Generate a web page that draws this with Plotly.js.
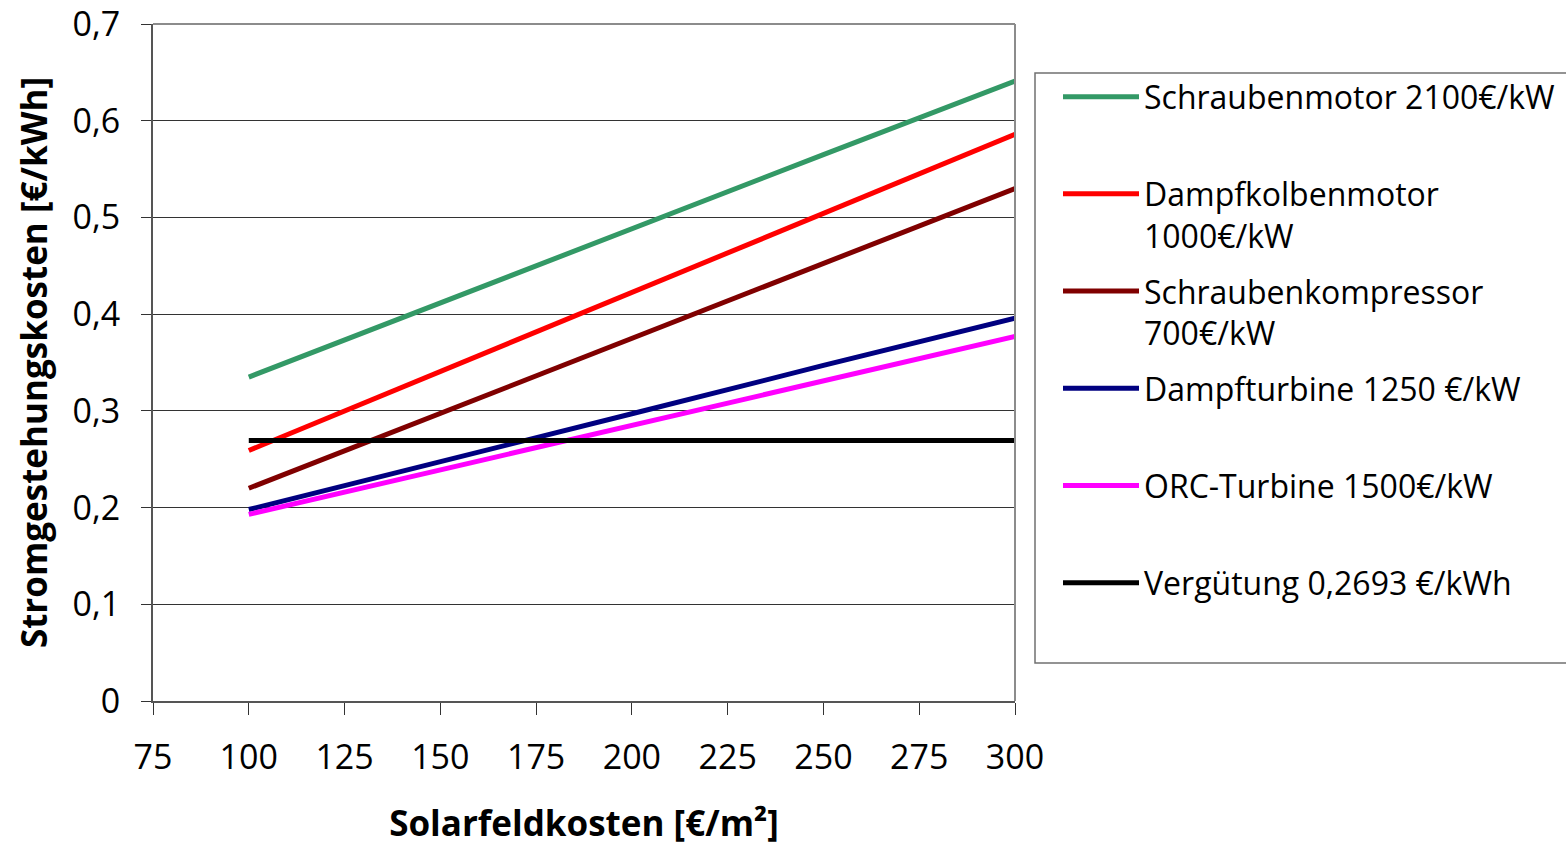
<!DOCTYPE html>
<html>
<head>
<meta charset="utf-8">
<script src="https://cdn.plot.ly/plotly-3.0.1.min.js"></script>
<style>html,body{margin:0;padding:0;background:#fff;}#chart{width:1566px;height:846px;}</style>
</head>
<body>
<div id="chart"></div>
<script>
// Solarfeldkosten [€/m²]
const solarfeldkosten = [100, 150, 200, 250, 300];
// Stromgestehungskosten [€/kWh]
const schraubenmotor = [0.335, 0.412, 0.488, 0.565, 0.641];
const dampfkolbenmotor = [0.259, 0.341, 0.423, 0.504, 0.586];
const schraubenkompressor = [0.220, 0.2975, 0.375, 0.452, 0.530];
const dampfturbine = [0.198, 0.247, 0.297, 0.347, 0.396];
const orcTurbine = [0.193, 0.239, 0.285, 0.331, 0.377];
const verguetung = [0.2693, 0.2693, 0.2693, 0.2693, 0.2693];

const seriesNames = [
  "Schraubenmotor 2100€/kW<br> ",
  "Dampfkolbenmotor<br>1000€/kW",
  "Schraubenkompressor<br>700€/kW",
  "Dampfturbine 1250 €/kW<br> ",
  "ORC-Turbine 1500€/kW<br> ",
  "Vergütung 0,2693 €/kWh<br> "
];
const seriesValues = [schraubenmotor, dampfkolbenmotor, schraubenkompressor, dampfturbine, orcTurbine, verguetung];
const seriesColors = ["#339966", "#FF0000", "#800000", "#000080", "#FF00FF", "#000000"];

const FONT = "'Open Sans', 'Noto Sans', sans-serif";

const traces = seriesValues.map((vals, i) => ({
  type: "scatter",
  mode: "lines",
  x: solarfeldkosten,
  y: vals,
  name: seriesNames[i],
  legendgroup: "g" + i,
  line: {color: seriesColors[i], width: 5},
  hoverinfo: "skip"
}));

const layout = {
  width: 1566,
  height: 846,
  margin: {l: 153, r: 551, t: 24, b: 145, pad: 0, autoexpand: false},
  paper_bgcolor: "#ffffff",
  plot_bgcolor: "#ffffff",
  separators: ",.",
  font: {family: FONT, size: 34, color: "#000"},
  xaxis: {
    range: [75, 300],
    tick0: 75,
    dtick: 25,
    tickmode: "linear",
    showgrid: false,
    zeroline: false,
    showline: true,
    linecolor: "#555555",
    linewidth: 2,
    ticks: "outside",
    ticklen: 12,
    tickwidth: 1,
    tickcolor: "#333333",
    ticklabelstandoff: 13,
    ticklabeloverflow: "allow",
    tickfont: {family: FONT, size: 34, color: "#000"},
    title: {text: "Solarfeldkosten [€/m²]", font: {family: FONT, size: 35, color: "#000", weight: "bold"}, standoff: 41}
  },
  yaxis: {
    range: [0, 0.7001],
    tick0: 0,
    dtick: 0.1,
    tickmode: "linear",
    showgrid: true,
    gridcolor: "#333333",
    gridwidth: 1,
    zeroline: false,
    showline: true,
    linecolor: "#555555",
    linewidth: 2,
    ticks: "outside",
    ticklen: 10,
    tickwidth: 1,
    tickcolor: "#333333",
    ticklabelstandoff: 14,
    ticklabeloverflow: "allow",
    tickfont: {family: FONT, size: 34, color: "#000"},
    title: {text: "Stromgestehungskosten [€/kWh]", font: {family: FONT, size: 35, color: "#000", weight: "bold"}, standoff: 14}
  },
  showlegend: true,
  legend: {
    x: (1058 - 153) / 862,
    xanchor: "left",
    y: 0.933,
    yanchor: "top",
    valign: "top",
    bgcolor: "rgba(0,0,0,0)",
    borderwidth: 0,
    tracegroupgap: 11,
    itemwidth: 76,
    font: {family: FONT, size: 32, color: "#000"}
  },
  shapes: [
    {type: "line", xref: "paper", yref: "paper", x0: 0, x1: 1, y0: 1, y1: 1, line: {color: "#8c8c8c", width: 2}},
    {type: "line", xref: "paper", yref: "paper", x0: 1, x1: 1, y0: 0, y1: 1, line: {color: "#8c8c8c", width: 2}},
    {type: "rect", xref: "paper", yref: "paper", x0: (1035-153)/862, x1: (1570-153)/862, y0: (701-663)/677, y1: (701-73)/677, line: {color: "#707070", width: 1.5}, fillcolor: "rgba(0,0,0,0)"}
  ]
};

Plotly.newPlot("chart", traces, layout, {staticPlot: true, displayModeBar: false});
</script>
</body>
</html>
